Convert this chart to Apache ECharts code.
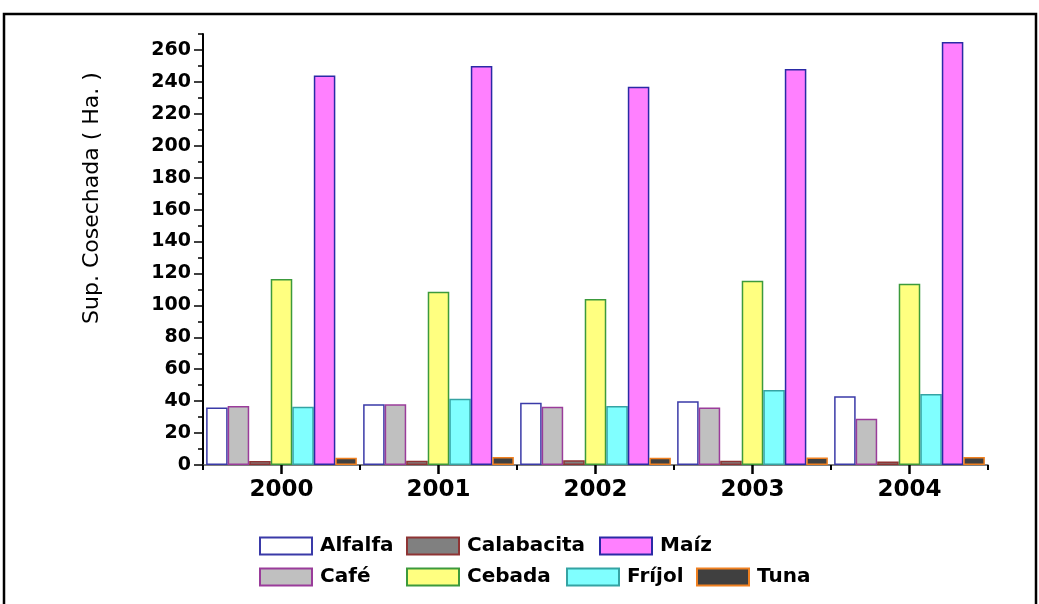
<!DOCTYPE html>
<html>
<head>
<meta charset="utf-8">
<script src="https://cdn.jsdelivr.net/npm/echarts@6/dist/echarts.min.js"></script>
<style>
  html, body { margin: 0; padding: 0; background: #ffffff; }
  #chart { width: 1039px; height: 604px; }
</style>
</head>
<body>
<div id="chart"></div>
<script>
// Harvested area per crop and year (hectares)
const years = ['2000', '2001', '2002', '2003', '2004'];
const alfalfa = [36, 38, 39, 40, 43];
const cafe = [37, 38, 36.5, 36, 29];
const calabacita = [2.5, 2.7, 3, 2.7, 2.2];
const cebada = [116.5, 108.5, 104, 115.5, 113.5];
const frijol = [36.5, 41.5, 37, 47, 44.5];
const maiz = [244, 250, 237, 248, 265];
const tuna = [4.5, 5, 4.5, 4.7, 5];

// Value axis ticks: labelled every 20, small ticks between
const yLabelTicks = [0, 20, 40, 60, 80, 100, 120, 140, 160, 180, 200, 220, 240, 260];
const yMinorTicks = [10, 30, 50, 70, 90, 110, 130, 150, 170, 190, 210, 230, 250, 270];
const yMax = 270;

const FONT = 'DejaVu Sans';

const crops = [
  { name: 'Alfalfa',    data: alfalfa,    fill: '#ffffff', line: '#3a3aa8' },
  { name: 'Café',       data: cafe,       fill: '#c0c0c0', line: '#9a3c9a' },
  { name: 'Calabacita', data: calabacita, fill: '#808080', line: '#8e3434' },
  { name: 'Cebada',     data: cebada,     fill: '#ffff80', line: '#3c9a3c' },
  { name: 'Fríjol',     data: frijol,     fill: '#80ffff', line: '#35a3a3' },
  { name: 'Maíz',       data: maiz,       fill: '#ff80ff', line: '#2a2aa6' },
  { name: 'Tuna',       data: tuna,       fill: '#404040', line: '#f08020' }
];

// Legend placement: two rows under the plot
const legendSlots = {
  'Alfalfa':    [259, 536],
  'Calabacita': [406, 536],
  'Maíz':       [599, 536],
  'Café':       [259, 567],
  'Cebada':     [406, 567],
  'Fríjol':     [566, 567],
  'Tuna':       [696, 567]
};

const chart = echarts.init(document.getElementById('chart'), null, { renderer: 'canvas' });

const series = crops.map(c => ({
  name: c.name,
  type: 'bar',
  xAxisIndex: 0,
  yAxisIndex: 0,
  data: c.data,
  barGap: '0%',
  barCategoryGap: '4%',
  itemStyle: { color: c.fill, borderColor: c.line, borderWidth: 1.5 },
  emphasis: { disabled: true }
}));

const legends = crops.map(c => ({
  data: [c.name],
  left: legendSlots[c.name][0],
  top: legendSlots[c.name][1],
  padding: 0,
  itemWidth: 52,
  itemHeight: 17,
  icon: 'rect',
  selectedMode: false,
  textStyle: {
    fontFamily: FONT, fontWeight: 'bold', fontSize: 20, color: '#000',
    padding: [0, 0, 0, 3]
  }
}));

const option = {
  backgroundColor: '#ffffff',
  animation: false,
  grid: { left: 203, right: 51, top: 34, bottom: 139, containLabel: false },
  legend: legends,
  xAxis: [
    {
      type: 'category',
      data: years,
      position: 'bottom',
      axisLine: { show: true, lineStyle: { color: '#555', width: 1.5 } },
      axisTick: { show: true, alignWithLabel: true, length: 9, lineStyle: { color: '#000', width: 2.5 } },
      axisLabel: { margin: 14, fontFamily: FONT, fontWeight: 'bold', fontSize: 23, color: '#000' },
      splitLine: { show: false }
    },
    {
      type: 'category',
      data: years,
      position: 'bottom',
      axisLine: { show: false },
      axisTick: { show: true, length: 5, lineStyle: { color: '#000', width: 2 } },
      axisLabel: { show: false },
      splitLine: { show: false }
    }
  ],
  yAxis: [
    {
      type: 'value',
      min: 0,
      max: yMax,
      interval: 10,
      position: 'left',
      axisLine: { show: true, lineStyle: { color: '#000', width: 2 } },
      axisTick: { show: true, customValues: yLabelTicks, length: 9, lineStyle: { color: '#000', width: 1.5 } },
      axisLabel: { customValues: yLabelTicks, margin: 12, fontFamily: FONT, fontWeight: 'bold', fontSize: 19, color: '#000' },
      splitLine: { show: false }
    },
    {
      type: 'value',
      min: 0,
      max: yMax,
      interval: 10,
      position: 'left',
      axisLine: { show: false },
      axisTick: { show: true, customValues: yMinorTicks, length: 5, lineStyle: { color: '#000', width: 1.5 } },
      axisLabel: { show: false },
      splitLine: { show: false }
    }
  ],
  graphic: [
    {
      type: 'rect',
      shape: { x: 4, y: 14, width: 1032, height: 620 },
      style: { fill: 'none', stroke: '#000', lineWidth: 2.5 },
      silent: true
    },
    {
      type: 'text',
      x: 92,
      y: 198,
      rotation: Math.PI / 2,
      style: {
        text: 'Sup. Cosechada ( Ha. )',
        fontFamily: FONT,
        fontSize: 22,
        fill: '#000',
        align: 'center',
        verticalAlign: 'middle'
      },
      silent: true
    }
  ],
  series: series
};

chart.setOption(option);
</script>
</body>
</html>
